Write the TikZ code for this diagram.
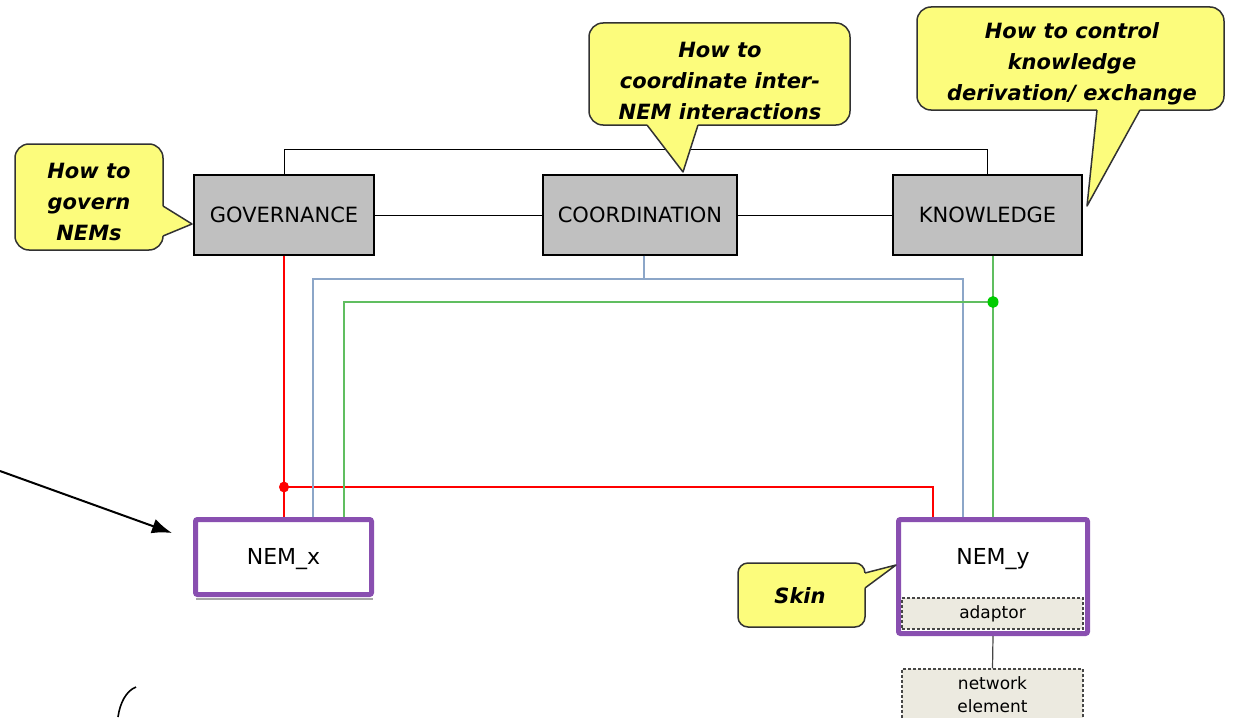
\documentclass[tikz,border=0pt]{standalone}
\usepackage{fontspec}
\setmainfont{DejaVu Sans}
\usetikzlibrary{arrows.meta}
\definecolor{boxgray}{RGB}{192,192,192}
\definecolor{nempurple}{RGB}{137,79,176}
\definecolor{notefill}{RGB}{252,252,124}
\definecolor{noteedge}{RGB}{50,50,50}
\definecolor{linkblue}{RGB}{140,166,200}
\definecolor{linkgreen}{RGB}{96,190,96}
\definecolor{linkred}{RGB}{255,0,0}
\definecolor{dotgreen}{RGB}{0,204,0}
\definecolor{partfill}{RGB}{236,234,224}
\definecolor{partedge}{RGB}{70,70,70}
\begin{document}
\begin{tikzpicture}[x=1pt,y=-1pt,
  mgmt/.style={draw=black, line width=1.1pt, fill=boxgray, minimum height=80pt,
    font=\fontsize{21}{25}\selectfont, inner sep=0pt},
  nem/.style={draw=nempurple, line width=5pt, fill=white, rounded corners=2pt, inner sep=0pt},
  nemlabel/.style={font=\fontsize{22}{26}\selectfont, inner sep=0pt},
  part/.style={draw=partedge, line width=1.1pt, dash pattern=on 3pt off 2pt, fill=partfill, inner sep=0pt},
  note/.style={draw=noteedge, fill=notefill, line width=1.5pt, rounded corners=14pt, inner sep=0pt},
  notetext/.style={font=\fontsize{21}{31}\selectfont\bfseries\itshape, align=center, inner sep=0pt},
  notetip/.style={draw=noteedge, line width=1.5pt, line join=round},
  link/.style={line width=1.3pt},
]
\useasboundingbox (0,0) rectangle (1236,717);

% management functions
\node[mgmt, minimum width=180pt] (gov) at (284,215) {GOVERNANCE};
\node[mgmt, minimum width=194pt] (coo) at (640,215) {COORDINATION};
\node[mgmt, minimum width=189pt] (kno) at (987.5,215) {KNOWLEDGE};

\draw[line width=1pt] (gov) -- (coo);
\draw[line width=1pt] (coo) -- (kno);
\draw[line width=1pt] (gov.north) -- ++(0,-25) -| (kno.north);

% network element managers
\node[nem, minimum width=176pt, minimum height=75pt] (nx) at (283.5,557) {};
\node[nemlabel] (nxl) at (283.5,559) {NEM\_x};
\draw[gray!70, line width=1.2pt] ([xshift=3pt,yshift=-2pt]nx.south west) -- ([xshift=-1pt,yshift=-2pt]nx.south east);

\node[nem, minimum width=189pt, minimum height=114pt] (ny) at (993,576.5) {};
\node[nemlabel] (nyl) at (993,559) {NEM\_y};
\node[part, minimum width=181pt, minimum height=31pt, font=\fontsize{17}{20}\selectfont] (ad) at (992.5,613.5) {adaptor};

\node[part, minimum width=181pt, minimum height=72pt] (ne) at (992.5,705) {};
\node[font=\fontsize{17}{23}\selectfont, align=center, inner sep=0pt] (nel) at (992.5,695) {network\\element};
\draw[partedge, line width=1.2pt] (ny.south) -- (ne.north);

% governance link (red)
\coordinate (rdot) at (284,487);
\coordinate (rR) at (933,487);
\draw[linkred, link] (gov.south) -- (gov.south |- nx.north);
\draw[linkred, line width=1.8pt] (rdot) -| (rR |- ny.north);
\fill[linkred] (rdot) ellipse [x radius=5pt, y radius=5.5pt];

% coordination link (blue)
\coordinate (bT) at (644,279);
\coordinate (bL) at (313,279);
\coordinate (bR) at (963,279);
\draw[linkblue, link] (bT |- coo.south) -- (bT);
\draw[linkblue, link] (bL |- nx.north) -- (bL) -- (bR) -- (bR |- ny.north);

% knowledge link (green)
\coordinate (gdot) at (993,302);
\coordinate (gL) at (344,302);
\draw[linkgreen, link] (gdot |- kno.south) -- (gdot |- ny.north);
\draw[linkgreen, link] (gdot) -- (gL) -- (gL |- nx.north);
\fill[dotgreen] (gdot) ellipse [x radius=5.5pt, y radius=6pt];

% callouts
\node[note, minimum width=148pt, minimum height=106pt] (cgov) at (89,197) {};
\fill[notefill] (157,206) -- (163,206) -- (192,224) -- (163,236) -- (157,236) -- cycle;
\draw[notetip] (163,206) -- (192,224) -- (163,236);
\node[notetext] (tgov) at (89,202) {How to\\govern\\NEMs};

\node[note, minimum width=261pt, minimum height=102pt] (ccoo) at (719.5,74) {};
\fill[notefill] (647,119) -- (647,125) -- (683,172) -- (698,125) -- (698,119) -- cycle;
\draw[notetip] (647,125) -- (683,172) -- (698,125);
\node[notetext] (tcoo) at (720,81) {How to\\coordinate inter-\\NEM interactions};

\node[note, minimum width=307pt, minimum height=103pt] (ckno) at (1070.5,58.5) {};
\fill[notefill] (1097,104) -- (1097,110) -- (1087,206) -- (1140,110) -- (1140,104) -- cycle;
\draw[notetip] (1097,110) -- (1087,206) -- (1140,110);
\node[notetext] (tkno) at (1072,64) {How to control\\knowledge\\derivation/ exchange};

\node[note, rounded corners=10pt, minimum width=127pt, minimum height=64pt] (cskin) at (801.5,595) {};
\fill[notefill] (859,573) -- (865,573) -- (896,565) -- (865,588) -- (859,588) -- cycle;
\draw[notetip] (865,573) -- (896,565) -- (865,588);
\node[notetext] (tskin) at (800,596) {Skin};

% pointer arrow and partial curve
\coordinate (astart) at (0,471);
\coordinate (atip) at (172,533);
\draw[line width=2pt, -{Latex[length=20pt,width=15pt]}] (astart) -- (atip);
\coordinate (cA) at (118,717);
\coordinate (cB) at (136,687);
\draw[line width=1.6pt] (cA) .. controls (120,703) and (126,691) .. (cB);
\end{tikzpicture}
\end{document}
